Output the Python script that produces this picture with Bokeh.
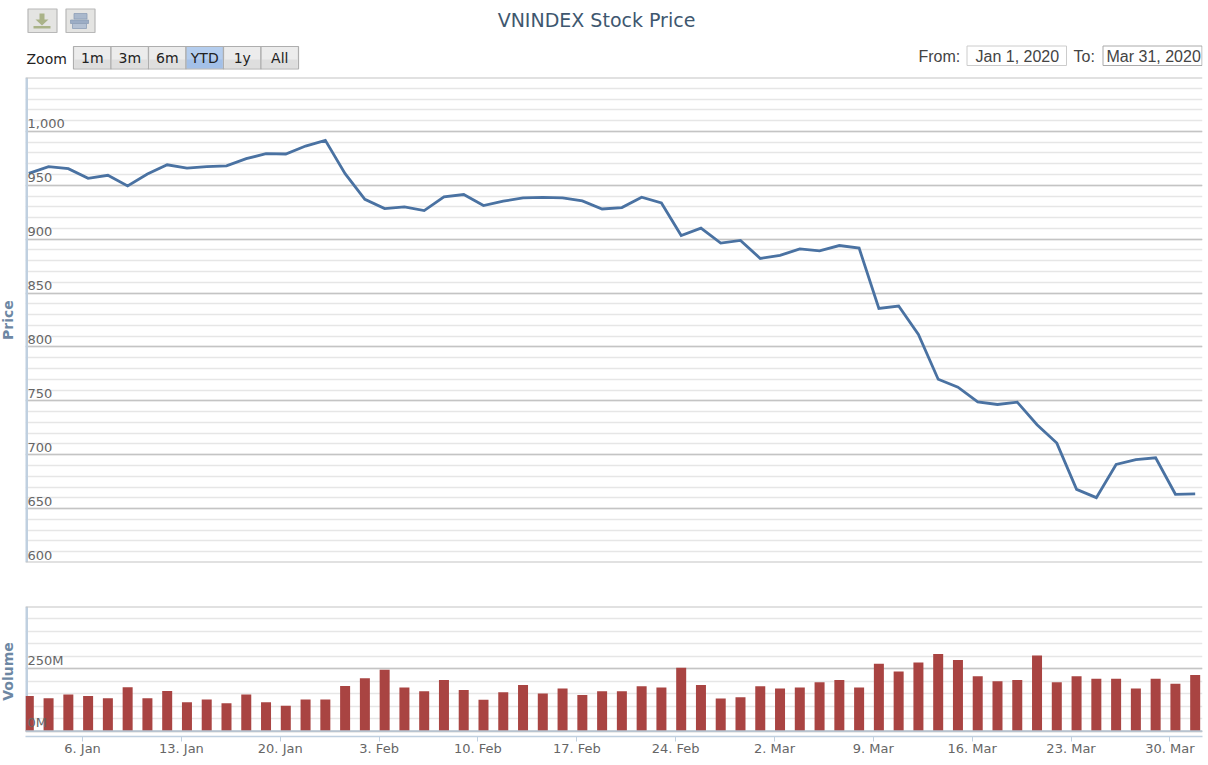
from bokeh.plotting import figure
from bokeh.layouts import column
from bokeh.models import Range1d, FixedTicker, Span
from bokeh.core.properties import value
from bokeh.embed import file_html
from bokeh.resources import INLINE

FONT = "DejaVu Sans"
ARIAL = "Liberation Sans"

jan_days = [1, 2, 3, 6, 7, 8, 9, 10, 13, 14, 15, 16, 17, 20, 21, 22, 30, 31]
feb_days = [3, 4, 5, 6, 7, 10, 11, 12, 13, 14, 17, 18, 19, 20, 21, 24, 25, 26, 27, 28]
mar_days = [2, 3, 4, 5, 6, 9, 10, 11, 12, 13, 16, 17, 18, 19, 20, 23, 24, 25, 26, 27, 30, 31]
dates = [f"{d}. Jan" for d in jan_days] + [f"{d}. Feb" for d in feb_days] + [f"{d}. Mar" for d in mar_days]

price = [961, 967.3, 965.4, 956.5, 959.3, 949.4, 960.5, 969, 966, 967.3,
         968, 974.7, 979.3, 979, 986.4, 991.7, 960.8, 937, 928.4, 930,
         926.5, 939.2, 941.4, 931.2, 935.2, 938.3, 938.7, 938.3, 935.5, 928,
         929.3, 938.9, 933.6, 903.4, 910.2, 896.3, 898.8, 882.1, 884.9, 891,
         889.2, 894.1, 891.7, 835.8, 838, 811.7, 770, 762.7, 749, 746.6,
         748.8, 727.8, 710.8, 667.9, 660.2, 691, 695.4, 697.2, 663.3, 663.6]

volume = [141.5, 132, 147, 141.5, 132, 176, 132, 161, 116, 127,
          112, 147, 116, 102, 127, 127, 181, 212, 246, 175,
          160, 205, 165, 126, 156, 185, 151, 171, 145.5, 160,
          160, 180, 175, 254, 185, 131, 136, 180, 171, 175,
          196, 205, 175, 270, 239, 275, 310, 285, 220, 200,
          205, 304, 196, 220, 210, 210, 171, 210, 190, 225]

tick_labels = ["6. Jan", "13. Jan", "20. Jan", "3. Feb", "10. Feb", "17. Feb", "24. Feb",
               "2. Mar", "9. Mar", "16. Mar", "23. Mar", "30. Mar"]
price_ticks = [600, 650, 700, 750, 800, 850, 900, 950, 1000]
price_tick_labels = ["600", "650", "700", "750", "800", "850", "900", "950", "1,000"]
volume_ticks = [0, 250]
volume_tick_labels = ["0M", "250M"]
zoom_labels = ["1m", "3m", "6m", "YTD", "1y", "All"]

LINE = "#4a72a2"
BAR = "#a94442"
AXIS = "#c0d0e0"
GRID = "#c4c4c4"
MINOR = "#e6e6e6"
LABEL = "#666666"
TITLE = "#6d87a3"

x_shift = 0.28
xs = [i + x_shift for i in range(len(dates))]
x_ticks = [dates.index(t) for t in tick_labels]
x_range = (0.113, 59.65)

# The canvas starts 5px left of the page edge so that the rotated axis titles can sit far left.
SHIFT = 5
LEFT, RIGHT = 25, 1202
WIDTH = RIGHT + 2 + SHIFT
BORDER_L = LEFT + SHIFT

# ---------- header (page-pixel coordinates; its frame is aligned with the panels below)
head = figure(width=WIDTH, height=70, x_range=Range1d(LEFT, RIGHT), y_range=Range1d(70, 0),
              toolbar_location=None, output_backend="svg", min_border_left=BORDER_L,
              min_border_right=2, min_border_top=0, min_border_bottom=0, outline_line_color=None,
              x_axis_location=None, y_axis_location=None, tools="")
head.xgrid.visible = False
head.ygrid.visible = False


def txt(x, y, s, size, color, font=FONT, align="left"):
    head.text([x], [y], text=[s], text_font=value(font), text_font_size=size, text_color=color,
              text_align=align, text_baseline="middle")


txt(596, 19, "VNINDEX Stock Price", "19px", "#3e576f", align="center")

head.quad(left=[27.5, 65.5], right=[56.5, 94.5], top=[8.5, 8.5], bottom=[32, 32],
          fill_color="#e4e4e2", line_color="#b8b8b8", line_width=1.2)
head.patch([39, 44, 44, 48, 41.5, 35, 39], [13, 13, 19, 19, 25, 19, 19], fill_color="#aab388", line_color=None)
head.quad(left=[33], right=[50], top=[25.5], bottom=[28], fill_color="#aab388", line_color=None)
head.quad(left=[73.5, 70, 72], right=[86.5, 88, 86], top=[13, 19.5, 23], bottom=[18.5, 23, 28],
          fill_color=["#a9b8cc", "#9cadc5", "#b4c1d3"], line_color="#8e9fb8", line_width=0.8)

txt(26, 58, "Zoom", "14px", "#222222")
edges = [73, 110.5, 148, 185.5, 223, 260.5, 298]
head.quad(left=edges[:-1], right=edges[1:], top=[46] * 6, bottom=[68.5] * 6,
          fill_color=["#ececec", "#ececec", "#ececec", "#b4cdee", "#ececec", "#ececec"],
          line_color="#aeaeae", line_width=1.2)
head.quad(left=[e + 1 for e in edges[:-1]], right=[e - 1 for e in edges[1:]], top=[59] * 6, bottom=[67.5] * 6,
          fill_color=["#dedede", "#dedede", "#dedede", "#a3c0e8", "#dedede", "#dedede"], line_color=None)
for a, b, z in zip(edges[:-1], edges[1:], zoom_labels):
    txt((a + b) / 2, 57.5, z, "14px", "#222222", align="center")

head.quad(left=[966.5, 1102.5], right=[1066, 1201.5], top=[45.5, 45.5], bottom=[65, 65],
          fill_color="white", line_color=["#cccccc", "#aaaaaa"], line_width=1)
txt(918, 56, "From:", "16px", "#444444", ARIAL)
txt(975, 55.5, "Jan 1, 2020", "16px", "#444444", ARIAL)
txt(1073, 56, "To:", "16px", "#444444", ARIAL)
txt(1106, 55.5, "Mar 31, 2020", "16px", "#444444", ARIAL)


def style(p, label, major, minor, standoff):
    p.xgrid.visible = False
    p.ygrid.ticker = FixedTicker(ticks=major, minor_ticks=minor)
    p.ygrid.grid_line_color = GRID
    p.ygrid.grid_line_width = 1.6
    p.ygrid.minor_grid_line_color = MINOR
    p.ygrid.minor_grid_line_width = 1.6
    ax = p.yaxis[0]
    ax.ticker = FixedTicker(ticks=[])
    ax.major_tick_line_color = None
    ax.minor_tick_line_color = None
    ax.axis_line_color = None
    ax.axis_label = label
    ax.axis_label_text_font = FONT
    ax.axis_label_text_font_size = "14px"
    ax.axis_label_text_font_style = "bold"
    ax.axis_label_text_color = TITLE
    ax.axis_label_standoff = standoff


def y_labels(p, ticks, labels, lift):
    p.text(x=[x_range[0]] * len(ticks), y=ticks, text=labels, x_offset=2, y_offset=-lift,
           text_font=value(FONT), text_font_size="13px", text_color=LABEL,
           text_align="left", text_baseline="bottom")


price_range = (600, 1050)
pf = figure(width=WIDTH, height=520, x_range=Range1d(*x_range), y_range=Range1d(*price_range),
            toolbar_location=None, output_backend="svg", tools="", outline_line_color=None,
            min_border_left=BORDER_L, min_border_right=2, min_border_top=7, min_border_bottom=28,
            x_axis_location=None)
style(pf, "Price", price_ticks + [price_range[1]],
      list(range(price_range[0], price_range[1] + 1, 10)), 10)
pf.segment(x0=[x_range[0]], x1=[x_range[0]], y0=[price_range[0]], y1=[price_range[1]],
           line_color=AXIS, line_width=5)
for v in price_range:
    pf.add_layout(Span(location=v, dimension="width", line_color=GRID, line_width=2))
pf.line(xs, price, line_color=LINE, line_width=2.8, line_join="miter")
y_labels(pf, price_ticks, price_tick_labels, 3)

vol_top = 500
vol_bottom = -21.25
vf = figure(width=WIDTH, height=172, x_range=Range1d(*x_range), y_range=Range1d(vol_bottom, vol_top),
            toolbar_location=None, output_backend="svg", tools="", outline_line_color=None,
            min_border_left=BORDER_L, min_border_right=2, min_border_top=16, min_border_bottom=26)
style(vf, "Volume", volume_ticks + [vol_top], list(range(0, vol_top + 1, 50)), 10)
vf.segment(x0=[x_range[0]], x1=[x_range[0]], y0=[0], y1=[vol_top], line_color=AXIS, line_width=5)
vf.add_layout(Span(location=vol_top, dimension="width", line_color=GRID, line_width=2))
vf.vbar(x=xs, top=volume, bottom=0, width=0.506, fill_color=BAR, line_color=None)
vf.segment(x0=[x_range[0]], x1=[x_range[1]], y0=[0], y1=[0], line_color="#b8c4d0", line_width=1.8)
y_labels(vf, volume_ticks, volume_tick_labels, 1)

xa = vf.xaxis[0]
xa.ticker = FixedTicker(ticks=x_ticks)
xa.major_label_overrides = {i: t for i, t in zip(x_ticks, tick_labels)}
xa.axis_line_color = AXIS
xa.axis_line_width = 1.5
xa.major_tick_line_color = AXIS
xa.major_tick_out = 5
xa.major_tick_in = 0
xa.minor_tick_line_color = None
xa.major_label_text_font = FONT
xa.major_label_text_font_size = "13px"
xa.major_label_text_color = LABEL
xa.major_label_standoff = -1

page = column(head, pf, vf, spacing=0, margin=(0, 0, 0, -SHIFT))
open("out.html", "w").write(file_html(page, INLINE))
